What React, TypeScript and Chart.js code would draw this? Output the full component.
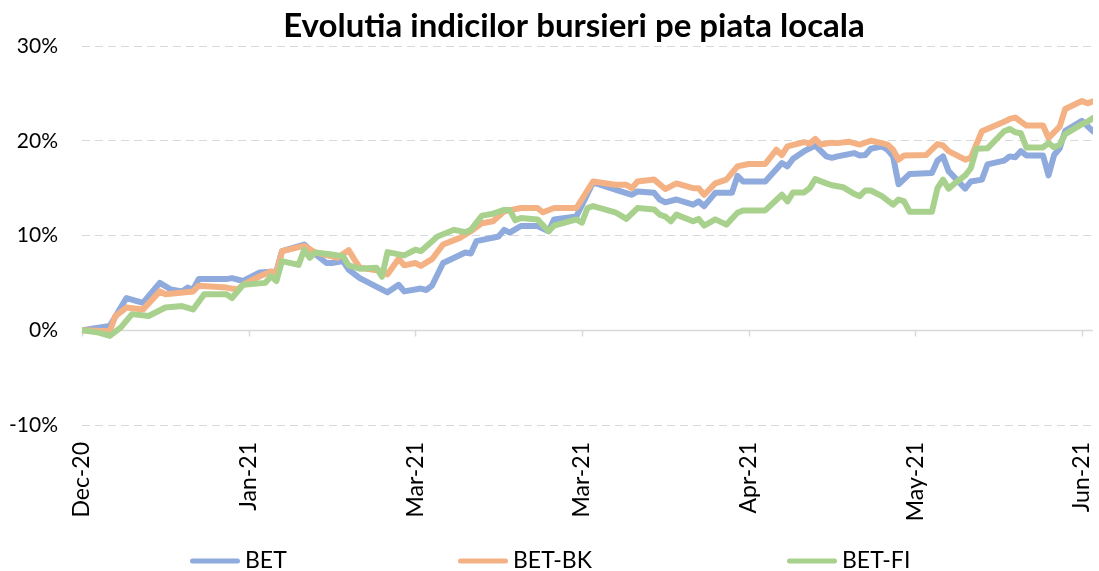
import React, { useEffect, useRef } from 'react';
import { Chart, registerables } from 'chart.js';

Chart.register(...registerables);

const FONT = 'Lato';
const TITLE = 'Evolutia indicilor bursieri pe piata locala';

// x axis: calendar days from the start of the series
const tickDays = [0, 30, 60, 90, 120, 150, 180];
const tickLabels = ['Dec-20', 'Jan-21', 'Mar-21', 'Mar-21', 'Apr-21', 'May-21', 'Jun-21'];
const lastDay = 182;

// y axis ticks (%)
const yTicks = [-10, 0, 10, 20, 30];

const seriesNames = ['BET', 'BET-BK', 'BET-FI'];
const seriesColors = ['#8FAADC', '#F4B183', '#A9D18E'];

// BET
const betDays = [0, 5, 8, 11, 14, 16, 18, 19, 20, 21, 26, 27, 29, 32, 35, 36, 40, 41, 44, 45, 47, 48, 50, 55, 57, 58, 61, 62, 63, 65, 67, 69, 70, 71, 75, 76, 77, 79, 82, 84, 85, 89, 92, 96, 97, 99, 100, 103, 104, 105, 107, 110, 111, 112, 114, 117, 118, 119, 123, 126, 127, 128, 130, 132, 134, 135, 136, 139, 140, 141, 142, 144, 145, 146, 147, 149, 153, 154, 155, 156, 159, 160, 162, 163, 166, 167, 168, 169, 170, 173, 174, 175, 176, 177, 180, 182];
const betValues = [0, 0.45, 3.4, 2.9, 5.0, 4.3, 4.1, 4.5, 4.3, 5.4, 5.4, 5.5, 5.2, 6.1, 6.2, 8.35, 9.05, 8.5, 7.1, 7.1, 7.3, 6.4, 5.5, 4.0, 4.8, 4.1, 4.4, 4.25, 4.7, 7.1, 7.65, 8.2, 8.1, 9.4, 9.9, 10.6, 10.3, 11.0, 11.0, 10.45, 11.7, 12.0, 15.6, 14.85, 14.65, 14.3, 14.65, 14.5, 13.8, 13.5, 13.8, 13.25, 13.6, 13.1, 14.5, 14.5, 16.3, 15.7, 15.7, 17.65, 17.3, 18.1, 18.9, 19.5, 18.35, 18.2, 18.35, 18.7, 18.45, 18.5, 19.15, 19.4, 19.05, 18.35, 15.4, 16.5, 16.6, 17.9, 18.35, 16.8, 14.95, 15.7, 15.9, 17.5, 17.9, 18.35, 18.25, 18.9, 18.45, 18.45, 16.35, 18.5, 19.2, 21.05, 22.1, 21.0];

// BET-BK
const bkDays = [0, 5, 6, 8, 11, 14, 15, 20, 21, 26, 28, 29, 32, 34, 35, 36, 40, 42, 45, 46, 48, 49, 50, 54, 55, 57, 58, 60, 61, 63, 65, 68, 70, 72, 74, 76, 79, 82, 83, 85, 89, 92, 96, 98, 99, 100, 103, 105, 107, 110, 111, 112, 114, 116, 118, 120, 123, 125, 126, 127, 130, 131, 132, 133, 135, 136, 138, 140, 142, 144, 145, 146, 147, 148, 152, 154, 155, 156, 159, 160, 162, 166, 167, 168, 170, 173, 174, 176, 177, 180, 181, 182];
const bkValues = [0, -0.1, 1.5, 2.4, 2.2, 4.1, 3.8, 4.1, 4.7, 4.5, 4.3, 4.8, 5.7, 6.2, 6.1, 8.35, 8.9, 8.2, 7.8, 7.65, 8.45, 7.5, 6.6, 6.25, 5.9, 7.55, 6.85, 7.1, 6.8, 7.5, 9.05, 9.75, 10.45, 11.3, 11.5, 12.55, 12.9, 12.9, 12.45, 12.9, 12.9, 15.7, 15.35, 15.35, 15.0, 15.7, 15.9, 14.9, 15.5, 15.0, 15.0, 14.3, 15.5, 15.9, 17.3, 17.55, 17.55, 19.05, 18.5, 19.4, 19.85, 19.7, 20.2, 19.6, 19.8, 19.75, 19.9, 19.6, 20.0, 19.75, 19.6, 19.05, 18.0, 18.45, 18.5, 19.65, 19.5, 18.9, 18.0, 18.2, 21.0, 22.0, 22.3, 22.45, 21.6, 21.6, 20.3, 21.5, 23.35, 24.2, 23.95, 24.15];

// BET-FI
const fiDays = [0, 3, 5, 7, 9, 12, 15, 18, 20, 22, 26, 27, 29, 33, 34, 35, 36, 39, 40, 41, 42, 45, 47, 48, 50, 53, 54, 55, 58, 60, 61, 64, 67, 69, 70, 72, 74, 76, 77, 78, 79, 82, 84, 85, 89, 90, 91, 92, 96, 98, 100, 103, 104, 105, 106, 107, 110, 111, 112, 114, 116, 118, 119, 123, 126, 127, 128, 130, 131, 132, 134, 135, 136, 137, 139, 140, 141, 142, 144, 146, 147, 148, 149, 153, 154, 155, 156, 157, 159, 160, 161, 163, 166, 167, 168, 169, 170, 173, 174, 175, 176, 177, 180, 181, 182];
const fiValues = [0, -0.25, -0.6, 0.3, 1.7, 1.5, 2.4, 2.55, 2.2, 3.8, 3.8, 3.4, 4.8, 5.0, 5.7, 5.2, 7.3, 6.9, 8.5, 7.65, 8.2, 8.0, 7.8, 6.85, 6.5, 6.6, 5.65, 8.25, 7.9, 8.5, 8.35, 9.9, 10.6, 10.35, 10.6, 12.1, 12.3, 12.7, 12.7, 11.6, 11.85, 11.7, 10.45, 11.05, 11.7, 11.35, 12.9, 13.1, 12.45, 11.75, 12.9, 12.75, 12.2, 12.0, 11.5, 12.2, 11.5, 11.75, 11.05, 11.7, 11.15, 12.4, 12.65, 12.65, 14.3, 13.6, 14.55, 14.55, 15.0, 15.95, 15.5, 15.3, 15.2, 15.1, 14.4, 14.15, 14.75, 14.75, 14.15, 13.25, 13.8, 13.6, 12.5, 12.5, 15.0, 15.9, 14.95, 15.45, 16.35, 17.1, 19.15, 19.2, 21.0, 21.25, 20.9, 20.8, 19.3, 19.3, 19.75, 19.3, 19.6, 20.7, 21.75, 22.0, 22.4];

const toPoints = (days: number[], vals: number[]) => days.map((d, i) => ({ x: d, y: vals[i] }));

export default function App() {
  const canvasRef = useRef<HTMLCanvasElement>(null);

  useEffect(() => {
    if (!canvasRef.current) return;

    const zeroAxisPlugin = {
      id: 'zeroAxis',
      beforeDatasetsDraw(chart: any) {
        const { ctx, chartArea } = chart;
        const xs = chart.scales.x;
        const ys = chart.scales.y;
        const y0 = Math.round(ys.getPixelForValue(0)) + 0.5;
        ctx.save();
        ctx.strokeStyle = '#D9D9D9';
        ctx.lineWidth = 1.5;
        ctx.beginPath();
        ctx.moveTo(chartArea.left, y0);
        ctx.lineTo(chartArea.right, y0);
        tickDays.forEach((d) => {
          const px = Math.round(xs.getPixelForValue(d)) + 0.5;
          ctx.moveTo(px, y0);
          ctx.lineTo(px, y0 + 6);
        });
        ctx.stroke();
        ctx.restore();
      },
    };

    const titlePlugin = {
      id: 'chartTitle',
      afterDraw(chart: any) {
        const ctx = chart.ctx;
        ctx.save();
        ctx.font = `bold 33px ${FONT}`;
        ctx.fillStyle = '#000';
        ctx.textAlign = 'center';
        ctx.textBaseline = 'alphabetic';
        ctx.fillText(TITLE, 574, 37);
        ctx.restore();
      },
    };

    const legendPlugin = {
      id: 'bottomLegend',
      afterDraw(chart: any) {
        const ctx = chart.ctx;
        ctx.save();
        ctx.font = `23px ${FONT}`;
        const lineLen = 50;
        const gapText = 5;
        const starts = [190, 458, 787];
        const y = 561;
        chart.data.datasets.forEach((ds: any, i: number) => {
          const x = starts[i];
          ctx.strokeStyle = ds.borderColor;
          ctx.lineWidth = 5;
          ctx.lineCap = 'round';
          ctx.beginPath();
          ctx.moveTo(x + 2.5, y);
          ctx.lineTo(x + lineLen - 2.5, y);
          ctx.stroke();
          ctx.fillStyle = '#000';
          ctx.textAlign = 'left';
          ctx.textBaseline = 'middle';
          ctx.fillText(ds.label, x + lineLen + gapText, y);
        });
        ctx.restore();
      },
    };

    const chart = new Chart(canvasRef.current, {
      type: 'line',
      data: {
        datasets: [
          { label: seriesNames[0], data: toPoints(betDays, betValues), order: 3 },
          { label: seriesNames[1], data: toPoints(bkDays, bkValues), order: 2 },
          { label: seriesNames[2], data: toPoints(fiDays, fiValues), order: 1 },
        ].map((ds, i) => ({
          ...ds,
          borderColor: seriesColors[i],
          backgroundColor: seriesColors[i],
          borderWidth: 6,
          pointRadius: 0,
          tension: 0,
          borderJoinStyle: 'round' as const,
          borderCapStyle: 'round' as const,
        })),
      },
      options: {
        animation: false,
        responsive: true,
        maintainAspectRatio: false,
        events: [],
        layout: { padding: { left: 0, right: 6, top: 46, bottom: 46 } },
        plugins: {
          legend: { display: false },
          tooltip: { enabled: false },
          title: { display: false },
        },
        scales: {
          x: {
            type: 'linear',
            min: 0,
            max: lastDay,
            grid: { display: false, drawTicks: false },
            border: { display: false },
            afterBuildTicks: (scale: any) => {
              scale.ticks = tickDays.map((v) => ({ value: v }));
            },
            afterFit: (scale: any) => {
              scale.height = 100;
              scale.paddingLeft = 0;
              scale.paddingRight = 0;
            },
            ticks: {
              autoSkip: false,
              minRotation: 90,
              maxRotation: 90,
              padding: 17,
              color: '#000',
              font: { family: FONT, size: 23 },
              callback: (v: any) => {
                const i = tickDays.indexOf(Number(v));
                return i >= 0 ? tickLabels[i] : '';
              },
            },
          },
          y: {
            min: yTicks[0],
            max: yTicks[yTicks.length - 1],
            afterBuildTicks: (scale: any) => {
              scale.ticks = yTicks.map((v) => ({ value: v }));
            },
            afterFit: (scale: any) => {
              scale.width = 82;
              scale.paddingTop = 0;
              scale.paddingBottom = 0;
            },
            grid: {
              drawTicks: false,
              lineWidth: 1,
              color: (ctx: any) => (ctx.tick && ctx.tick.value === 0 ? 'rgba(0,0,0,0)' : '#D9D9D9'),
            },
            border: { display: false, dash: [8, 5] },
            ticks: {
              padding: 24,
              color: '#000',
              font: { family: FONT, size: 21 },
              callback: (v: any) => `${v}%`,
            },
          },
        },
      },
      plugins: [zeroAxisPlugin, titlePlugin, legendPlugin],
    });

    return () => chart.destroy();
  }, []);

  return (
    <div style={{ position: 'fixed', left: 0, top: 0, width: 1099, height: 571, background: '#fff' }}>
      <canvas ref={canvasRef} />
    </div>
  );
}
